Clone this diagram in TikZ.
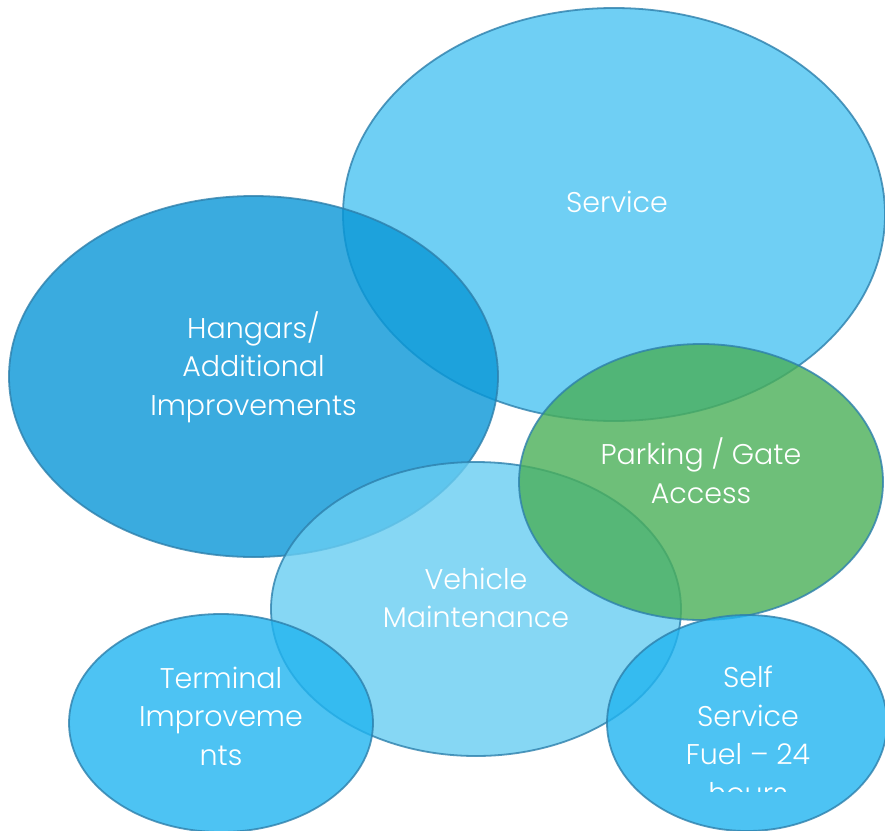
\documentclass[tikz,border=0pt]{standalone}
\usepackage{fontspec}
\IfFontExistsTF{Poppins Light}{\setmainfont{Poppins Light}}{\setmainfont{Poppins}}
\usetikzlibrary{shapes.geometric}

\definecolor{svcfill}{RGB}{76,195,242}
\definecolor{hngfill}{RGB}{9,151,215}
\definecolor{vehfill}{RGB}{104,205,242}
\definecolor{prkfill}{RGB}{74,175,88}
\definecolor{trmfill}{RGB}{33,180,240}
\definecolor{rimline}{RGB}{45,128,172}

\tikzset{
  blob/.style={ellipse, draw=rimline, line width=1.8pt,
    fill opacity=0.8, draw opacity=0.8, inner sep=0pt},
  lbl/.style={text=white, font=\fontsize{28.5}{38.5}\selectfont,
    align=center, inner sep=0pt}
}

\begin{document}
\begin{tikzpicture}[x=1pt, y=-1pt]
  \fill[white] (0,0) rectangle (885,830);
  \useasboundingbox (0,0) rectangle (885,830);

  % overlapping ellipses, back to front
  \node[blob, fill=svcfill, minimum width=542pt, minimum height=413pt] (service) at (614,214.5) {};
  \node[blob, fill=hngfill, minimum width=489pt, minimum height=361pt] (hangars) at (253.5,376.5) {};
  \node[blob, fill=vehfill, minimum width=410pt, minimum height=294pt] (vehicle) at (476,609) {};
  \node[blob, fill=prkfill, minimum width=364pt, minimum height=276pt] (parking) at (701,482) {};
  \node[blob, fill=trmfill, minimum width=304pt, minimum height=218pt] (terminal) at (221,723) {};
  \node[blob, fill=trmfill, minimum width=280pt, minimum height=216pt] (selfsvc) at (747,723) {};

  % labels
  \node[lbl] (tservice) at (617,202) {Service};
  \node[lbl] (thangars) at (253.5,367) {Hangars/\\Additional\\Improvements};
  \node[lbl] (tparking) at (701,470.5) {Parking / Gate\\Access};
  \node[lbl] (tvehicle) at (476,598) {Vehicle\\Maintenance};
  \node[lbl] (tterminal) at (221,716) {Terminal\\Improveme\\nts};
  \begin{scope}
    \clip (600,600) rectangle (885,791);
    \node[lbl] (tselfsvc) at (748,735) {Self\\Service\\Fuel – 24\\hours};
  \end{scope}
\end{tikzpicture}
\end{document}
